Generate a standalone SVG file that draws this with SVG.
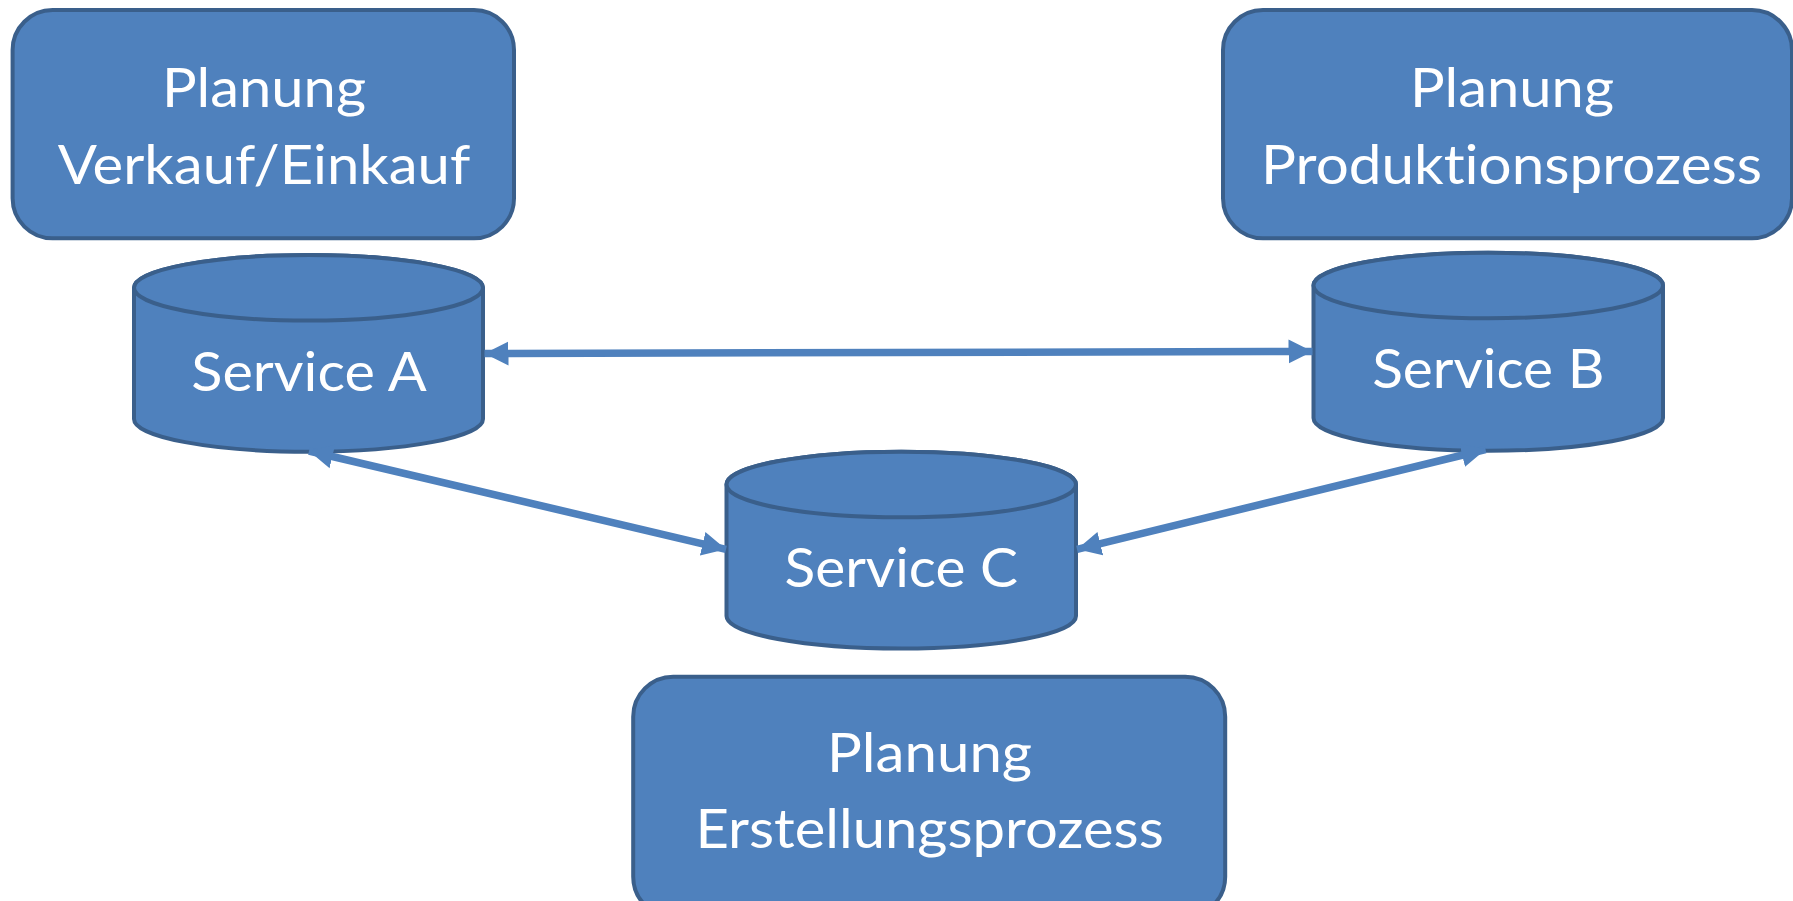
<svg xmlns="http://www.w3.org/2000/svg" width="1793" height="901" viewBox="0 0 1793 901">
<style>
.box{fill:#4F81BD;stroke:#3A5F8B;stroke-width:4}
.cyl{fill:#4F81BD;stroke:#3A5F8B;stroke-width:4}
.t{font-family:Lato,"Open Sans","Liberation Sans",sans-serif;font-size:55px;fill:#FFFFFF;text-anchor:middle;font-variant-ligatures:none;font-feature-settings:"liga" 0}
.conn{stroke:#4F81BD;stroke-width:7.5;fill:none;marker-start:url(#ah);marker-end:url(#ah)}
</style>
<defs>
<marker id="ah" markerUnits="userSpaceOnUse" markerWidth="26" markerHeight="26" viewBox="0 0 26 26" refX="24" refY="13" orient="auto-start-reverse">
<path d="M0,1 L24,13 L0,25 z" fill="#4F81BD"/>
</marker>
</defs>
<rect width="1793" height="901" fill="#FFFFFF"/>
<g id="box-verkauf">
<rect class="box" x="12.6" y="10" width="501.4" height="228.3" rx="40" ry="40"/>
<text class="t" x="264" y="107.3" textLength="204" lengthAdjust="spacingAndGlyphs">Planung</text>
<text class="t" x="264" y="184" textLength="412.6" lengthAdjust="spacingAndGlyphs">Verkauf/Einkauf</text>
</g>
<g id="box-produktion">
<rect class="box" x="1223" y="10" width="569" height="228.3" rx="40" ry="40"/>
<text class="t" x="1512" y="107.3" textLength="204" lengthAdjust="spacingAndGlyphs">Planung</text>
<text class="t" x="1511.6" y="184" textLength="501" lengthAdjust="spacingAndGlyphs">Produktionsprozess</text>
</g>
<g id="box-erstellung">
<rect class="box" x="633.2" y="676.7" width="592" height="240" rx="40" ry="40"/>
<text class="t" x="929.6" y="772.3" textLength="205" lengthAdjust="spacingAndGlyphs">Planung</text>
<text class="t" x="929.6" y="848.3" textLength="468.4" lengthAdjust="spacingAndGlyphs">Erstellungsprozess</text>
</g>
<g id="service-a">
<path class="cyl" d="M134,287.8 L134,418.9 A174.5,32.8 0 0 0 483,418.9 L483,287.8 A174.5,32.8 0 0 0 134,287.8 Z"/>
<ellipse class="cyl" cx="308.5" cy="287.8" rx="174.5" ry="32.8"/>
<text class="t" x="309" y="390.7" textLength="235.4" lengthAdjust="spacingAndGlyphs">Service A</text>
</g>
<g id="service-b">
<path class="cyl" d="M1313.5,285.5 L1313.5,418 A174.75,32.8 0 0 0 1663,418 L1663,285.5 A174.75,32.8 0 0 0 1313.5,285.5 Z"/>
<ellipse class="cyl" cx="1488.25" cy="285.5" rx="174.75" ry="32.8"/>
<text class="t" x="1488.3" y="388.3" textLength="232.3" lengthAdjust="spacingAndGlyphs">Service B</text>
</g>
<g id="service-c">
<path class="cyl" d="M726.5,484.5 L726.5,616 A174.75,32.5 0 0 0 1076,616 L1076,484.5 A174.75,32.8 0 0 0 726.5,484.5 Z"/>
<ellipse class="cyl" cx="901.25" cy="484.5" rx="174.75" ry="32.8"/>
<text class="t" x="901.2" y="586.7" textLength="233.4" lengthAdjust="spacingAndGlyphs">Service C</text>
</g>
<g id="connectors">
<line class="conn" x1="484.5" y1="353.5" x2="1312.5" y2="351.5"/>
<line class="conn" x1="309" y1="451" x2="726" y2="549.3"/>
<line class="conn" x1="1485.5" y1="449.5" x2="1077" y2="549.3"/>
</g>
</svg>
